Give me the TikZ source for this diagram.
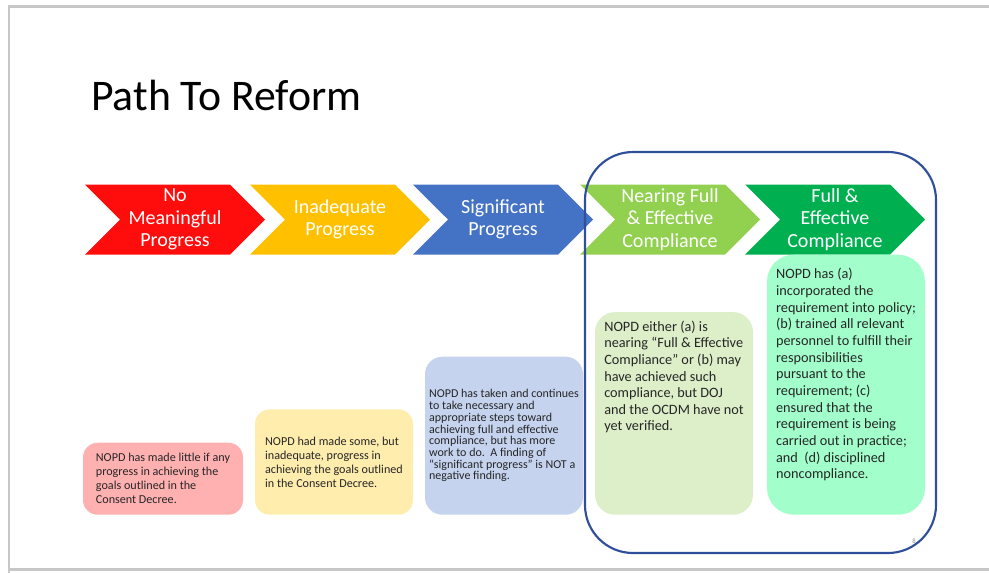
\documentclass[tikz,border=0pt]{standalone}
\usepackage{fontspec}
\setmainfont{Carlito}
\usetikzlibrary{shapes.symbols,positioning}

\definecolor{stagered}{HTML}{FF0D0D}
\definecolor{stageyellow}{HTML}{FFC000}
\definecolor{stageblue}{HTML}{4472C4}
\definecolor{stagelime}{HTML}{92D050}
\definecolor{stagegreen}{HTML}{00B050}
\definecolor{boxred}{HTML}{FFB0B0}
\definecolor{boxyellow}{HTML}{FFEDAD}
\definecolor{boxblue}{HTML}{C5D3EE}
\definecolor{boxlime}{HTML}{DDEFC9}
\definecolor{boxmint}{HTML}{A2FFCB}
\definecolor{zoneblue}{HTML}{2F4F9A}

\begin{document}
\begin{tikzpicture}[
    x=0.75pt, y=-0.75pt,
    stage/.style={signal, signal from=west, signal to=east, signal pointer angle=90,
        minimum width=135pt, minimum height=52.5pt, inner sep=0pt, draw=none,
        text=white, align=center, font=\fontsize{15}{16.9}\selectfont},
    descbox/.style={rounded corners=11pt, anchor=south, align=left, inner xsep=6pt,
        text=black!85, font=\fontsize{9.1}{10.5}\selectfont},
    every node/.style={inner sep=0pt}
    ]
    \useasboundingbox (0,0) rectangle (989,572);
    % slide edge
    \draw[black!22, line width=1.6pt] (9,575) -- (9,6.5) -- (995,6.5);
    \draw[black!22, line width=1.6pt] (9,569.5) -- (995,569.5);

    \node[anchor=base west, font=\fontsize{32.8}{36}\selectfont] (title) at (91,110) {Path To Reform};

    % the five stages
    \node[stage, fill=stagered]    (noprog)   at (175,219.5) {No\\Meaningful\\Progress};
    \node[stage, fill=stageyellow] (inadeq)   at (340,219.5) {Inadequate\\Progress};
    \node[stage, fill=stageblue]   (signif)   at (503,219.5) {Significant\\Progress};
    \node[stage, fill=stagelime]   (nearing)  at (670,219.5) {Nearing Full\\\& Effective\\Compliance};
    \node[stage, fill=stagegreen]  (fullcomp) at (835,219.5) {Full \&\\Effective\\Compliance};

    % what each stage means
    \node[descbox, fill=boxred, minimum width=120pt, minimum height=54pt] (noprogtxt) at (163,515)
        {NOPD has made little if any\\progress in achieving the\\goals outlined in the\\Consent Decree.};
    \node[descbox, fill=boxyellow, minimum width=118.5pt, minimum height=79pt] (inadeqtxt) at (334,515)
        {NOPD had made some, but\\inadequate, progress in\\achieving the goals outlined\\in the Consent Decree.};
    \node[descbox, fill=boxblue, minimum width=118.5pt, minimum height=118.5pt, inner xsep=2.5pt,
          rounded corners=13pt, font=\fontsize{9}{8.8}\selectfont] (signiftxt) at (504,515)
        {NOPD has taken and continues\\to take necessary and\\appropriate steps toward\\achieving full and effective\\compliance, but has more\\work to do.\ \ A finding of\\``significant progress'' is NOT a\\negative finding.};
    \node[descbox, fill=boxlime, minimum width=118.5pt, minimum height=152pt,
          rounded corners=15pt, font=\fontsize{10.7}{12.4}\selectfont] (nearingtxt) at (674,515)
        {NOPD either (a) is\\nearing ``Full \& Effective\\Compliance'' or (b) may\\have achieved such\\compliance, but DOJ\\and the OCDM have not\\yet verified.\\[44pt]};
    \node[descbox, fill=boxmint, minimum width=118.5pt, minimum height=195pt,
          rounded corners=20pt, font=\fontsize{10.7}{12.5}\selectfont] (fullcomptxt) at (846,515)
        {NOPD has (a)\\incorporated the\\requirement into policy;\\(b) trained all relevant\\personnel to fulfill their\\responsibilities\\pursuant to the\\requirement; (c)\\ensured that the\\requirement is being\\carried out in practice;\\and\ \ (d) disciplined\\noncompliance.\\[4pt]};

    % compliance zone
    \draw[zoneblue, line width=1.6pt, rounded corners=36pt] (585,152) rectangle (936,553);

    \node[text=black!45, font=\fontsize{5}{6}\selectfont] (pagenum) at (914,541) {8};
\end{tikzpicture}
\end{document}
